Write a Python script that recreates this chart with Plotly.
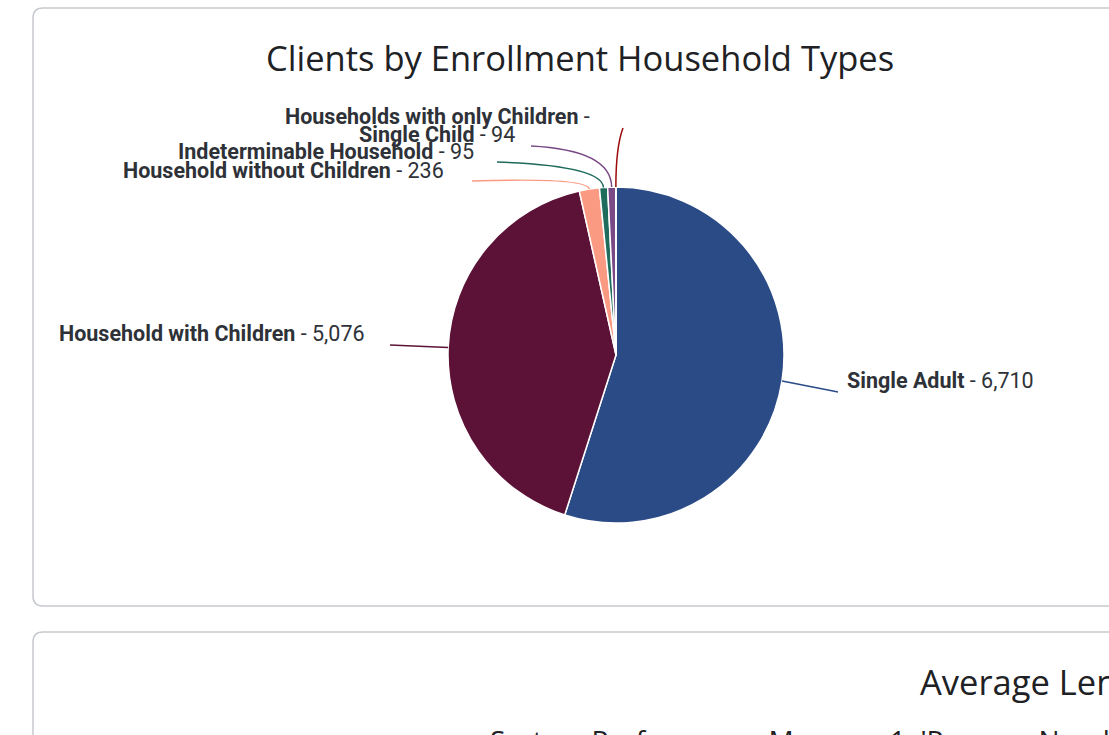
import math
import plotly.graph_objects as go

# ---- data ----
categories = ["Single Adult", "Household with Children", "Household without Children",
              "Indeterminable Household", "Households with only Children - Single Child", "Other"]
values = [6710, 5076, 236, 95, 94, 3]
colors = ["#2b4b87", "#5c1236", "#fb9a82", "#1f6b5c", "#7a4a86", "#9b0b0b"]
show_label = [True, True, True, True, True, False]

W, H = 1109, 735
CX, CY, R = 616, 355, 168
LBL = 21.5

def px(x):
    return x / W

def py(y):
    return 1 - y / H

fig = go.Figure()
fig.add_trace(go.Pie(
    labels=categories, values=values, sort=False, direction="clockwise", rotation=0,
    marker=dict(colors=colors, line=dict(color="white", width=1.5)),
    textinfo="none", hoverinfo="label+value", showlegend=False,
    domain=dict(x=[px(CX - R), px(CX + R)], y=[py(CY + R), py(CY - R)]),
))

# label layout (pixel positions of the text anchor and of the connector end, control distance)
label_layout = [
    dict(tx=845, ty=380, anchor="left", ex=838, ey=392, ctrl=8),
    dict(tx=367, ty=333, anchor="right", ex=390, ey=345, ctrl=8),
    dict(tx=446, ty=170, anchor="right", ex=472, ey=181, ctrl=12),
    dict(tx=476, ty=152, anchor="right", ex=497, ey=162, ctrl=22),
    dict(tx=437, ty=125, anchor="center", ex=531, ey=146, ctrl=22),
    dict(tx=None, ty=None, anchor=None, ex=623, ey=128, ctrl=40),
]

total = sum(values)
cum = 0.0
shapes = []
annotations = []
TXT = "#2e3238"
for i, v in enumerate(values):
    mid = (cum + v / 2) / total * 2 * math.pi
    cum += v
    sx, sy = CX + R * math.sin(mid), CY - R * math.cos(mid)
    L = label_layout[i]
    cxp, cyp = CX + (R + L["ctrl"]) * math.sin(mid), CY - (R + L["ctrl"]) * math.cos(mid)
    if 2 <= i <= 4:
        cyp = min(cyp, L["ey"] + 4)
    path = f"M {px(sx)},{py(sy)} Q {px(cxp)},{py(cyp)} {px(L['ex'])},{py(L['ey'])}"
    shapes.append(dict(type="path", path=path, xref="paper", yref="paper",
                       line=dict(color=colors[i], width=1.5)))
    if show_label[i]:
        val = f"{v:,}"
        if i == 4:
            annotations.append(dict(x=px(L["tx"]), y=py(116), xref="paper", yref="paper",
                                    text="<b>Households with only Children</b> -",
                                    showarrow=False, xanchor="center", yanchor="middle",
                                    font=dict(family="Roboto", size=LBL, color=TXT)))
            annotations.append(dict(x=px(L["tx"]), y=py(134), xref="paper", yref="paper",
                                    text=f"<b>Single Child</b> - {val}",
                                    showarrow=False, xanchor="center", yanchor="middle",
                                    font=dict(family="Roboto", size=LBL, color=TXT)))
        else:
            annotations.append(dict(x=px(L["tx"]), y=py(L["ty"]), xref="paper", yref="paper",
                                    text=f"<b>{categories[i]}</b> - {val}",
                                    showarrow=False, xanchor=L["anchor"], yanchor="middle",
                                    font=dict(family="Roboto", size=LBL, color=TXT)))

# cards
def card(x0, y0, x1, y1, r):
    return (f"M {px(x0)},{py(y0 + r)} Q {px(x0)},{py(y0)} {px(x0 + r)},{py(y0)} "
            f"L {px(x1)},{py(y0)} L {px(x1)},{py(y1)} L {px(x0 + r)},{py(y1)} "
            f"Q {px(x0)},{py(y1)} {px(x0)},{py(y1 - r)} Z")

shapes.insert(0, dict(type="path", path=card(33, 8, 1130, 606, 10), xref="paper", yref="paper",
                      line=dict(color="#c6c9ce", width=1.5), fillcolor="rgba(0,0,0,0)", layer="below"))
shapes.insert(0, dict(type="path", path=card(33, 632, 1130, 800, 10), xref="paper", yref="paper",
                      line=dict(color="#c6c9ce", width=1.5), fillcolor="rgba(0,0,0,0)", layer="below"))

annotations.append(dict(x=px(580), y=py(57), xref="paper", yref="paper",
                        text="Clients by Enrollment Household Types", showarrow=False,
                        xanchor="center", yanchor="middle",
                        font=dict(family="Open Sans", size=34.5, color="#202124")))
annotations.append(dict(x=px(918), y=py(681), xref="paper", yref="paper",
                        text="Average Length of Time Persons Remain Homeless", showarrow=False,
                        xanchor="left", yanchor="middle",
                        font=dict(family="Open Sans", size=34.5, color="#202124")))
annotations.append(dict(x=px(488), y=py(719), xref="paper", yref="paper",
                        text="System Performance Measure 1: 'Persons Number of Days Homeless'",
                        showarrow=False, xanchor="left", yanchor="top",
                        font=dict(family="Open Sans", size=28, color="#202124")))

fig.update_layout(
    width=W, height=H, margin=dict(l=0, r=0, t=0, b=0),
    paper_bgcolor="white", plot_bgcolor="white",
    shapes=shapes, annotations=annotations,
)

fig.write_html("out.html", config={"displayModeBar": False},
               post_script="document.body.style.margin='0';document.body.style.overflow='hidden';")
